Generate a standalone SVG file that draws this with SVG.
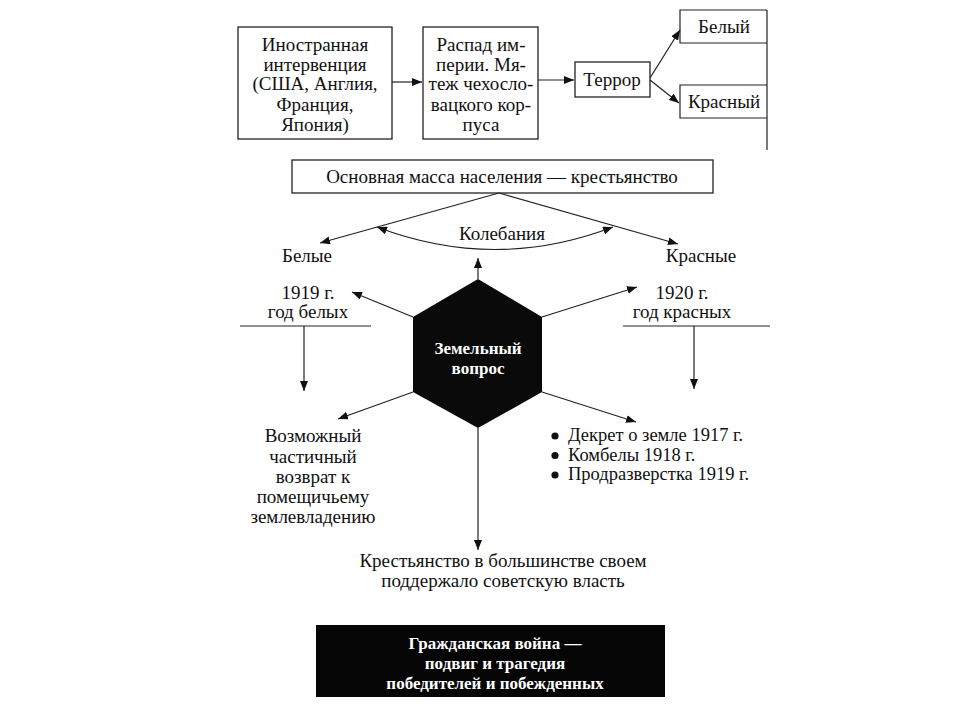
<svg xmlns="http://www.w3.org/2000/svg" width="960" height="720" viewBox="0 0 960 720">
<defs>
<marker id="ah" viewBox="0 0 10 8" refX="10" refY="4" markerWidth="10" markerHeight="8" markerUnits="userSpaceOnUse" orient="auto-start-reverse">
<path d="M0,0 L10,4 L0,8 Z" fill="#111"/>
</marker>
</defs>
<style>
.box{fill:#fff;stroke:#222;stroke-width:1.3}
.ln{fill:none;stroke:#222;stroke-width:1.2}
.ar{fill:none;stroke:#222;stroke-width:1.2;marker-end:url(#ah)}
.t{font-family:"Liberation Serif","DejaVu Serif",serif;font-size:19px;fill:#111;text-anchor:middle}
.s{text-anchor:start;font-size:18.5px}
.w{fill:#fff;font-weight:bold;font-size:17px}
</style>
<rect width="960" height="720" fill="#fff"/>
<g id="intervention">
<rect class="box" x="238" y="27" width="154" height="112"/>
<text class="t" x="315" y="51">Иностранная</text>
<text class="t" x="315" y="71">интервенция</text>
<text class="t" x="315" y="90">(США, Англия,</text>
<text class="t" x="315" y="111">Франция,</text>
<text class="t" x="315" y="131">Япония)</text>
</g>
<g id="collapse">
<rect class="box" x="423" y="27" width="115" height="112"/>
<text class="t" x="481" y="51">Распад им-</text>
<text class="t" x="481" y="71">перии. Мя-</text>
<text class="t" x="481" y="90">теж чехосло-</text>
<text class="t" x="481" y="111">вацкого кор-</text>
<text class="t" x="481" y="131">пуса</text>
</g>
<g id="terror">
<rect class="box" x="575" y="62" width="75" height="35"/>
<text class="t" x="612" y="86">Террор</text>
</g>
<g id="white">
<path class="ln" d="M767,10 H680 V43 H767"/>
<text class="t" x="724" y="33">Белый</text>
</g>
<g id="red">
<path class="ln" d="M767,85 H680 V118 H767"/>
<text class="t" x="724" y="108">Красный</text>
</g>
<g id="peasantry">
<rect class="box" x="292" y="160" width="421" height="33"/>
<text class="t" x="502" y="183">Основная масса населения — крестьянство</text>
</g>
<g id="whites-label"><text class="t" x="307" y="262">Белые</text></g>
<g id="reds-label"><text class="t" x="701" y="262">Красные</text></g>
<g id="wavering"><text class="t" x="502" y="240">Колебания</text></g>
<g id="land">
<polygon points="478,279 542,317 542,392 478,428 413,392 413,317" fill="#0a0a0a"/>
<text class="t w" x="478" y="354">Земельный</text>
<text class="t w" x="478" y="374">вопрос</text>
</g>
<g id="year1919">
<text class="t" x="308" y="299">1919 г.</text>
<text class="t" x="308" y="318">год белых</text>
</g>
<g id="year1920">
<text class="t" x="682" y="299">1920 г.</text>
<text class="t" x="682" y="318">год красных</text>
</g>
<g id="return">
<text class="t" x="313" y="442">Возможный</text>
<text class="t" x="313" y="463">частичный</text>
<text class="t" x="313" y="483">возврат к</text>
<text class="t" x="313" y="503">помещичьему</text>
<text class="t" x="313" y="523">землевладению</text>
</g>
<g id="measures">
<circle cx="555" cy="436" r="3.6" fill="#111"/>
<circle cx="555" cy="455.5" r="3.6" fill="#111"/>
<circle cx="555" cy="475" r="3.6" fill="#111"/>
<text class="t s" x="568" y="441">Декрет о земле 1917 г.</text>
<text class="t s" x="568" y="460.5">Комбелы 1918 г.</text>
<text class="t s" x="568" y="480">Продразверстка 1919 г.</text>
</g>
<g id="support">
<text class="t" x="503" y="567">Крестьянство в большинстве своем</text>
<text class="t" x="503" y="587">поддержало советскую власть</text>
</g>
<g id="civil-war">
<rect x="316" y="625" width="349" height="72" fill="#050505"/>
<text class="t w" x="495" y="649">Гражданская война —</text>
<text class="t w" x="495" y="669">подвиг и трагедия</text>
<text class="t w" x="495" y="689">победителей и побежденных</text>
</g>
<g id="connectors">
<line class="ln" x1="767" y1="10" x2="767" y2="150"/>
<line class="ar" x1="392" y1="82" x2="422" y2="82"/>
<line class="ar" x1="538" y1="80" x2="574" y2="80"/>
<line class="ar" x1="650" y1="78" x2="680" y2="30"/>
<line class="ar" x1="650" y1="80" x2="679" y2="103"/>
<line class="ar" x1="499" y1="193" x2="320" y2="243"/>
<line class="ar" x1="499" y1="193" x2="678" y2="244"/>
<path class="ar" d="M377,227 Q495,272 613,227" style="marker-start:url(#ah)"/>
<line class="ar" x1="478" y1="279" x2="478" y2="258"/>
<line class="ar" x1="413" y1="317" x2="352" y2="292"/>
<line class="ar" x1="542" y1="317" x2="637" y2="287"/>
<line class="ar" x1="413" y1="392" x2="338" y2="419"/>
<line class="ar" x1="542" y1="392" x2="636" y2="422"/>
<line class="ar" x1="478" y1="428" x2="478" y2="550"/>
<line class="ln" x1="240" y1="326" x2="371" y2="326"/>
<line class="ar" x1="304" y1="326" x2="304" y2="391"/>
<line class="ln" x1="623" y1="326" x2="770" y2="326"/>
<line class="ar" x1="694" y1="326" x2="694" y2="389"/>
</g>
</svg>
